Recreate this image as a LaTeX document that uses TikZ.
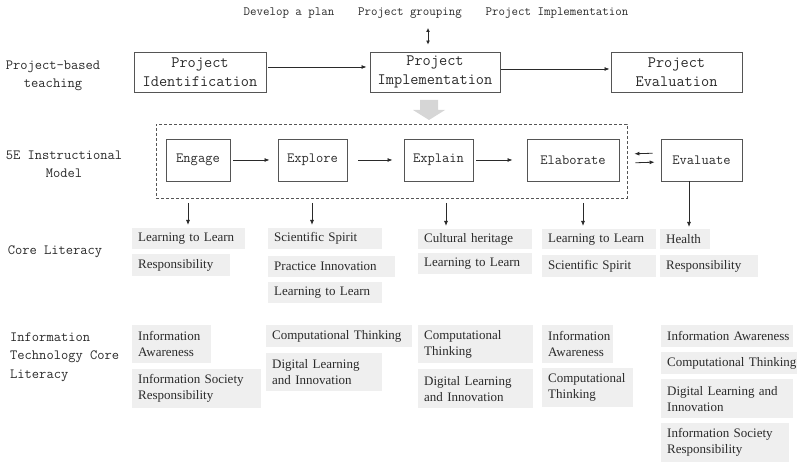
\documentclass[tikz,border=0pt]{standalone}
\usepackage{fontspec}
\setmainfont{Liberation Serif}
\usetikzlibrary{arrows.meta}
\definecolor{litgray}{HTML}{EFEFEF}
\definecolor{ink}{HTML}{2A2A2A}
\definecolor{edge}{HTML}{555555}
\hyphenpenalty=10000
\newcommand{\litbox}[6]{\node[lit, text width=#4pt-12pt, minimum height=#5pt] (#1) at (#2,#3) {#6};}

\tikzset{
  phase/.style={draw=edge, line width=0.9pt, text=ink, align=center, inner sep=0pt,
    font=\ttfamily\fontsize{15.9}{19}\selectfont},
  stage/.style={draw=edge, line width=0.9pt, text=ink, inner sep=0pt, minimum height=42pt,
    font=\ttfamily\fontsize{14.1}{17}\selectfont},
  rowlabel/.style={text=ink, inner sep=0pt, font=\ttfamily\fontsize{14.1}{18.5}\selectfont},
  toplabel/.style={text=ink, inner sep=0pt, font=\ttfamily\fontsize{12.6}{14}\selectfont},
  lit/.style={anchor=north west, fill=litgray, text=ink, align=left, inner xsep=6pt, inner ysep=0pt,
    font=\fontsize{13}{16}\selectfont},
  arr/.style={draw=ink, line width=0.8pt, -{Latex[length=5pt,width=4pt]}},
}

\begin{document}
\begin{tikzpicture}[x=1pt, y=-1pt]
        \useasboundingbox (0,0) rectangle (797,462);
        % row labels
        \node[rowlabel, align=center] (pbt) at (53,76) {Project-based\\teaching};
        \node[rowlabel, align=center] (fivee) at (64,164) {5E Instructional\\Model};
        \node[rowlabel] (core) at (55,252) {Core Literacy};
        \node[rowlabel, align=left, anchor=west] (itcore) at (10,357) {Information\\Technology Core\\Literacy};
        % project steps
        \node[toplabel] (plan) at (289,13) {Develop a plan};
        \node[toplabel] (group) at (410,13) {Project grouping};
        \node[toplabel] (implement) at (557,13) {Project Implementation};
        \coordinate (g) at (428,28);
        % project-based teaching
        \node[phase, minimum width=132pt, minimum height=40pt] (ident) at (200,72) {Project\\Identification};
        \node[phase, minimum width=130pt, minimum height=40pt] (impl) at (435,72) {Project\\Implementation};
        \node[phase, minimum width=131pt, minimum height=40pt] (eval) at (676.5,72) {Project\\Evaluation};
        \draw[arr, shorten <=2pt, shorten >=3pt] ([yshift=5pt]ident.east) -- ([yshift=5pt]impl.west);
        \draw[arr, shorten <=1pt, shorten >=1pt] ([yshift=3pt]impl.east) -- ([yshift=3pt]eval.west);
        \draw[draw=ink, line width=0.8pt, {Latex[length=4pt,width=4pt]}-{Latex[length=4pt,width=4pt]}, shorten >=7pt] (g) -- (g |- impl.north);
        % gray arrow into the 5E model
        \fill[black!16] (420,100) -- (438,100) -- (438,110) -- (445,110) -- (429,120) -- (413,110) -- (420,110) -- cycle;
        % 5E model
        \node[draw=edge, dash pattern=on 3pt off 2pt, line width=0.8pt, minimum width=471pt, minimum height=74pt, inner sep=0pt] (frame) at (391.5,161) {};
        \node[stage, minimum width=64pt] (engage) at (198,160) {Engage};
        \node[stage, minimum width=69pt] (explore) at (312.5,160) {Explore};
        \node[stage, minimum width=69pt] (explain) at (438.5,160) {Explain};
        \node[stage, minimum width=92pt] (elaborate) at (573,160) {Elaborate};
        \node[stage, minimum width=81pt] (evaluate) at (701.5,160) {Evaluate};
        \draw[arr, shorten <=3pt, shorten >=8pt] (engage) -- (explore);
        \draw[arr, shorten <=11pt, shorten >=11pt] (explore) -- (explain);
        \draw[arr, shorten <=3pt, shorten >=14pt] (explain) -- (elaborate);
        \draw[arr, shorten <=8pt, shorten >=7pt] ([yshift=7pt]evaluate.west) -- ([yshift=7pt]frame.east);
        \draw[arr, shorten <=8pt, shorten >=6pt] ([yshift=-2pt]frame.east) -- ([yshift=-2pt]evaluate.west);
        % core literacy
        \litbox{c1a}{132}{228}{113}{21}{Learning to Learn}
        \litbox{c1b}{132}{254}{98}{22}{Responsibility}
        \litbox{c2a}{268}{228}{114}{21}{Scientific Spirit}
        \litbox{c2b}{268}{256}{127}{21}{Practice Innovation}
        \litbox{c2c}{268}{282}{114}{21}{Learning to Learn}
        \litbox{c3a}{418}{229}{114}{20}{Cultural heritage}
        \litbox{c3b}{418}{253}{114}{21}{Learning to Learn}
        \litbox{c4a}{542}{229}{114}{20}{Learning to Learn}
        \litbox{c4b}{542}{255}{114}{22}{Scientific Spirit}
        \litbox{c5a}{660}{229}{50}{20}{Health}
        \litbox{c5b}{660}{255}{98}{22}{Responsibility}
        \coordinate (d1) at (188,198);
        \coordinate (d2) at (312,198);
        \coordinate (d3) at (446,198);
        \coordinate (d4) at (583,198);
        \coordinate (d5) at (689,181);
        \draw[arr, shorten <=5pt, shorten >=3pt] (d1) -- (d1 |- c1a.north);
        \draw[arr, shorten <=5pt, shorten >=3pt] (d2) -- (d2 |- c2a.north);
        \draw[arr, shorten <=5pt, shorten >=3pt] (d3) -- (d3 |- c3a.north);
        \draw[arr, shorten <=5pt, shorten >=3pt] (d4) -- (d4 |- c4a.north);
        \draw[arr, shorten >=2pt] (d5) -- (d5 |- c5a.north);
        % information technology core literacy
        \litbox{i1a}{132}{325}{79}{38}{Information\\Awareness}
        \litbox{i1b}{132}{369}{129}{39}{Information Society\\Responsibility}
        \litbox{i2a}{266}{325}{146}{22}{Computational~Thinking}
        \litbox{i2b}{266}{353}{116}{38}{Digital Learning\\and Innovation}
        \litbox{i3a}{418}{325}{115}{38}{Computational\\Thinking}
        \litbox{i3b}{418}{369}{115}{39}{Digital Learning\\and Innovation}
        \litbox{i4a}{542}{325}{71}{38}{Information\\Awareness}
        \litbox{i4b}{542}{368}{91}{39}{Computational\\Thinking}
        \litbox{i5a}{661}{325}{132}{22}{Information~Awareness}
        \litbox{i5b}{661}{352}{136}{22}{Computational~Thinking}
        \litbox{i5c}{661}{379}{132}{39}{Digital Learning and\\Innovation}
        \litbox{i5d}{661}{423}{128}{39}{Information Society\\Responsibility}
    \end{tikzpicture}
\end{document}
